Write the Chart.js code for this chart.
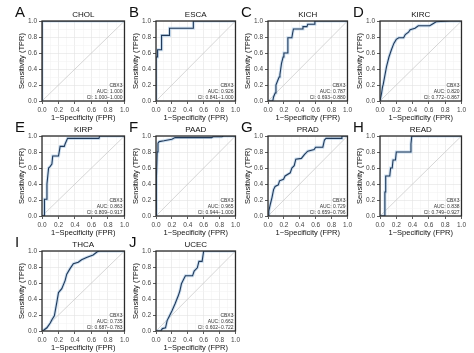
<!DOCTYPE html>
<html>
<head>
<meta charset="utf-8">
<script src="https://cdn.jsdelivr.net/npm/chart.js@4/dist/chart.umd.min.js"></script>
<style>
  html, body { margin: 0; padding: 0; background: #fff; }
  #wrap { position: relative; width: 474px; height: 353px; overflow: hidden; }
  .cell { position: absolute; }
</style>
</head>
<body>
<div id="wrap"></div>
<script>
const gene = 'CBX3';
const cancers = ['CHOL', 'ESCA', 'KICH', 'KIRC', 'KIRP', 'PAAD', 'PRAD', 'READ', 'THCA', 'UCEC'];
const letters = ['A', 'B', 'C', 'D', 'E', 'F', 'G', 'H', 'I', 'J'];
const aucs = ['1.000', '0.926', '0.787', '0.820', '0.863', '0.965', '0.729', '0.838', '0.735', '0.662'];
const ciRanges = ['1.000−1.000', '0.841−1.000', '0.693−0.880', '0.772−0.867', '0.809−0.917',
                  '0.944−1.000', '0.659−0.796', '0.749−0.927', '0.687−0.783', '0.602−0.722'];
const axisTicks = [0, 0.2, 0.4, 0.6, 0.8, 1.0];

// ROC curves: false positive rate / true positive rate
const cholFpr = [0, 0, 1];
const cholTpr = [0, 1, 1];
const escaFpr = [0, 0, 0.02, 0.02, 0.07, 0.07, 0.17, 0.17, 0.47, 0.47, 1];
const escaTpr = [0, 0.55, 0.55, 0.64, 0.64, 0.82, 0.82, 0.91, 0.91, 1, 1];
const kichFpr = [0, 0.06, 0.07, 0.09, 0.1, 0.12, 0.14, 0.15, 0.16, 0.17, 0.19, 0.2, 0.24, 0.25, 0.3, 0.31, 0.32, 0.43, 0.44, 0.49, 0.5, 0.58, 0.59, 1];
const kichTpr = [0, 0, 0.05, 0.1, 0.2, 0.25, 0.3, 0.33, 0.4, 0.47, 0.55, 0.6, 0.6, 0.79, 0.79, 0.85, 0.9, 0.9, 0.93, 0.93, 0.96, 0.96, 1, 1];
const kircFpr = [0, 0.01, 0.02, 0.03, 0.04, 0.06, 0.08, 0.11, 0.14, 0.17, 0.2, 0.23, 0.29, 0.31, 0.35, 0.37, 0.43, 0.47, 0.61, 0.64, 0.69, 0.86, 1];
const kircTpr = [0, 0, 0.1, 0.17, 0.21, 0.32, 0.43, 0.55, 0.64, 0.72, 0.77, 0.79, 0.79, 0.83, 0.86, 0.89, 0.91, 0.94, 0.94, 0.96, 0.99, 1, 1];
const kirpFpr = [0, 0.03, 0.03, 0.05, 0.06, 0.08, 0.1, 0.12, 0.13, 0.2, 0.22, 0.27, 0.28, 0.31, 0.69, 0.7, 1];
const kirpTpr = [0, 0, 0.21, 0.21, 0.4, 0.6, 0.62, 0.65, 0.75, 0.75, 0.87, 0.87, 0.9, 0.97, 0.97, 1, 1];
const paadFpr = [0, 0, 0.01, 0.015, 0.025, 0.04, 0.1, 0.15, 0.2, 0.24, 0.7, 0.72, 0.83, 0.85, 1];
const paadTpr = [0, 0.2, 0.47, 0.8, 0.91, 0.93, 0.94, 0.95, 0.96, 0.98, 0.98, 0.99, 0.99, 1, 1];
const pradFpr = [0, 0.01, 0.03, 0.05, 0.07, 0.09, 0.13, 0.145, 0.195, 0.215, 0.28, 0.3, 0.33, 0.35, 0.42, 0.46, 0.5, 0.58, 0.6, 0.69, 0.71, 0.73, 0.92, 0.93, 1];
const pradTpr = [0, 0.06, 0.15, 0.23, 0.33, 0.37, 0.39, 0.44, 0.46, 0.5, 0.54, 0.6, 0.63, 0.71, 0.72, 0.77, 0.81, 0.83, 0.86, 0.86, 0.95, 0.97, 0.97, 1, 1];
const readFpr = [0, 0.06, 0.06, 0.07, 0.07, 0.12, 0.13, 0.15, 0.16, 0.19, 0.2, 0.38, 0.38, 0.39, 1];
const readTpr = [0, 0, 0.3, 0.3, 0.5, 0.5, 0.6, 0.6, 0.7, 0.7, 0.8, 0.8, 0.9, 1, 1];
const thcaFpr = [0, 0.02, 0.06, 0.1, 0.12, 0.15, 0.18, 0.2, 0.24, 0.28, 0.3, 0.34, 0.38, 0.44, 0.48, 0.54, 0.62, 0.67, 0.7, 1];
const thcaTpr = [0, 0.01, 0.04, 0.1, 0.14, 0.19, 0.36, 0.48, 0.53, 0.63, 0.71, 0.78, 0.84, 0.86, 0.89, 0.92, 0.95, 0.99, 1, 1];
const ucecFpr = [0, 0.06, 0.08, 0.12, 0.14, 0.17, 0.2, 0.24, 0.28, 0.3, 0.32, 0.34, 0.37, 0.46, 0.48, 0.52, 0.54, 0.58, 0.6, 1];
const ucecTpr = [0, 0, 0.03, 0.04, 0.13, 0.19, 0.25, 0.34, 0.44, 0.5, 0.59, 0.63, 0.69, 0.69, 0.75, 0.79, 0.87, 0.87, 1, 1];

const fprs = [cholFpr, escaFpr, kichFpr, kircFpr, kirpFpr, paadFpr, pradFpr, readFpr, thcaFpr, ucecFpr];
const tprs = [cholTpr, escaTpr, kichTpr, kircTpr, kirpTpr, paadTpr, pradTpr, readTpr, thcaTpr, ucecTpr];

// panel grid (plot area placement)
const colLeft = [42, 156, 268, 380];
const colWidth = [83, 80, 80, 82];
const rowTop = [21, 136, 251];
const plotH = 80;
const FONT = "'Liberation Sans', Arial, sans-serif";

const isMajor = v => axisTicks.some(t => Math.abs(t - v) < 1e-6);

const panelDecor = {
  id: 'panelDecor',
  afterDatasetsDraw(chart, args, opts) {
    const { ctx, chartArea: a } = chart;
    ctx.save();
    ctx.strokeStyle = '#2b2b2b';
    ctx.lineWidth = 1.3;
    ctx.strokeRect(a.left, a.top, a.right - a.left, a.bottom - a.top);

    ctx.fillStyle = '#111';
    ctx.textBaseline = 'middle';
    ctx.font = `15px ${FONT}`;
    ctx.textAlign = 'left';
    ctx.fillText(opts.letter, a.left - 27, a.top - 8);

    ctx.font = `8px ${FONT}`;
    ctx.textAlign = 'center';
    ctx.fillText(opts.title, (a.left + a.right) / 2, a.top - 6);

    ctx.font = `5px ${FONT}`;
    ctx.textAlign = 'right';
    ctx.fillStyle = '#333';
    const x = a.right - 2;
    ctx.fillText(gene, x, a.bottom - 15);
    ctx.fillText('AUC: ' + opts.auc, x, a.bottom - 9);
    ctx.fillText('CI: ' + opts.ci, x, a.bottom - 3);
    ctx.restore();
  }
};

function axis(isX) {
  return {
    type: 'linear',
    min: 0,
    max: 1,
    position: isX ? 'bottom' : 'left',
    afterFit: s => { if (isX) s.height = 22; else s.width = 42; },
    border: { display: false },
    grid: {
      color: c => isMajor(c.tick.value) ? '#e2e2e2' : '#f0f0f0',
      lineWidth: c => isMajor(c.tick.value) ? 0.6 : 0.5,
      tickColor: c => isMajor(c.tick.value) ? '#333' : 'rgba(0,0,0,0)',
      tickLength: 3,
      tickWidth: 0.8
    },
    ticks: {
      stepSize: 0.1,
      autoSkip: false,
      maxRotation: 0,
      padding: 2,
      color: '#444',
      font: { size: 6.5, family: FONT },
      callback: v => isMajor(v) ? v.toFixed(1) : ''
    },
    title: {
      display: true,
      text: isX ? '1−Specificity (FPR)' : 'Sensitivity (TPR)',
      color: '#111',
      font: { size: 7.5, family: FONT },
      padding: isX ? { top: 0, bottom: 0.5 } : { top: 17.5, bottom: 0 }
    }
  };
}

const wrap = document.getElementById('wrap');
cancers.forEach((name, i) => {
  const row = Math.floor(i / 4), col = i % 4;
  const w = colWidth[col];
  const div = document.createElement('div');
  div.className = 'cell';
  div.style.left = (colLeft[col] - 42) + 'px';
  div.style.top = (rowTop[row] - 21) + 'px';
  const canvas = document.createElement('canvas');
  canvas.width = 42 + w + 6;
  canvas.height = 21 + plotH + 22;
  div.appendChild(canvas);
  wrap.appendChild(div);

  const points = fprs[i].map((x, k) => ({ x, y: tprs[i][k] }));

  new Chart(canvas.getContext('2d'), {
    type: 'scatter',
    data: {
      datasets: [
        { data: points, showLine: true, borderColor: '#213a5a', borderWidth: 1.1, pointRadius: 0 },
        { data: points, showLine: true, borderColor: 'rgba(160,195,228,0.55)', borderWidth: 3, pointRadius: 0 },
        { data: [{ x: 0, y: 0 }, { x: 1, y: 1 }], showLine: true, borderColor: '#c4c4c4', borderWidth: 0.7, pointRadius: 0 }
      ]
    },
    options: {
      responsive: false,
      animation: false,
      events: [],
      layout: { padding: { top: 21, right: 6, left: 0, bottom: 0 } },
      scales: { x: axis(true), y: axis(false) },
      plugins: {
        legend: { display: false },
        tooltip: { enabled: false },
        panelDecor: { letter: letters[i], title: name, auc: aucs[i], ci: ciRanges[i] }
      }
    },
    plugins: [panelDecor]
  });
});
</script>
</body>
</html>
